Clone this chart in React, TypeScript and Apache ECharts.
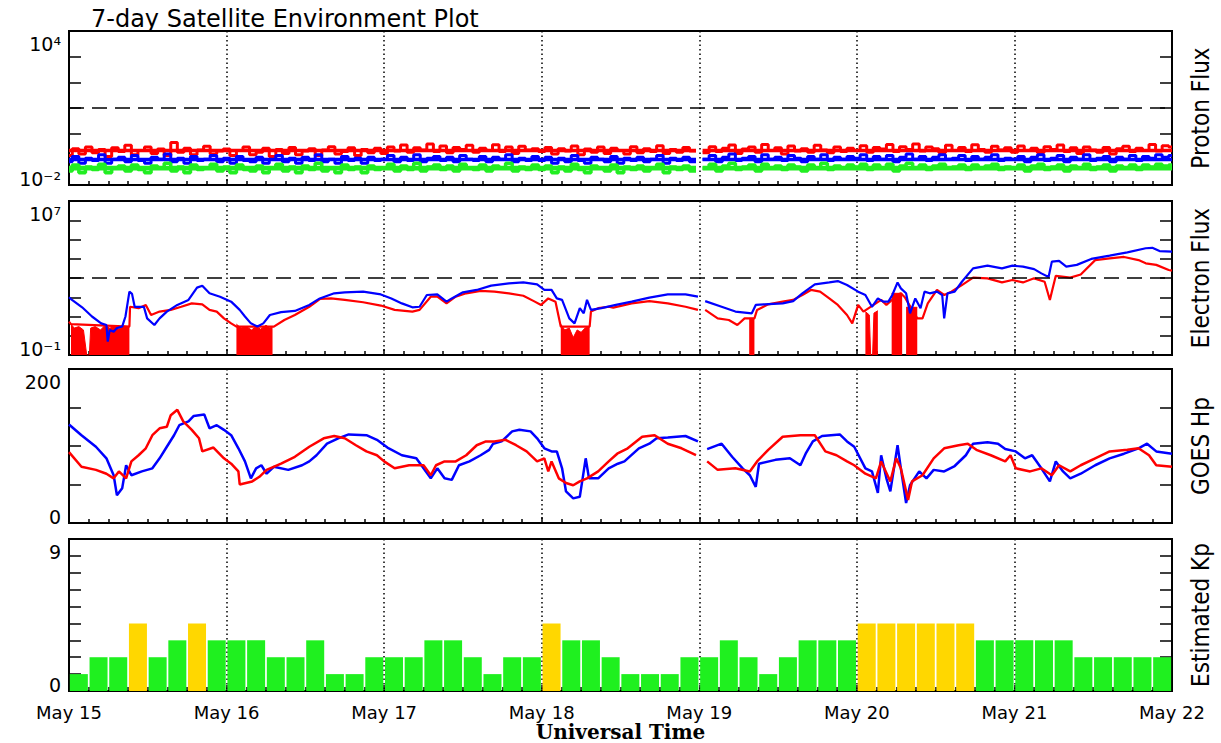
import React, { useEffect, useRef } from 'react';
import * as echarts from 'echarts';

// ---------- tick labels ----------
const dayLabels = ['May 15', 'May 16', 'May 17', 'May 18', 'May 19', 'May 20', 'May 21', 'May 22'];
const protonTickLabels = ['10⁻²', '10⁴'];
const electronTickLabels = ['10⁻¹', '10⁷'];
const hpTickLabels = ['0', '200'];
const kpTickLabels = ['0', '9'];

// ---------- Proton flux (hourly, hour 0..168 from May 15 00UT) ----------
const protonRed = [
  0.14, 0.26, 0.16, 0.3, 0.18, 0.24, 0.13, 0.28, 0.2, 0.35, 0.15, 0.22, 0.3, 0.17, 0.25, 0.14, 0.45, 0.19, 0.27, 0.15, 0.23, 0.32, 0.16, 0.21,
  0.25, 0.14, 0.22, 0.3, 0.15, 0.19, 0.27, 0.13, 0.24, 0.17, 0.29, 0.15, 0.21, 0.26, 0.14, 0.23, 0.31, 0.16, 0.2, 0.28, 0.14, 0.24, 0.18, 0.27,
  0.17, 0.3, 0.21, 0.36, 0.19, 0.28, 0.23, 0.4, 0.2, 0.33, 0.18, 0.29, 0.24, 0.35, 0.19, 0.27, 0.22, 0.37, 0.2, 0.3, 0.17, 0.32, 0.23, 0.26,
  0.2, 0.29, 0.16, 0.26, 0.21, 0.33, 0.15, 0.25, 0.19, 0.3, 0.17, 0.27, 0.22, 0.16, 0.31, 0.18, 0.26, 0.2, 0.34, 0.17, 0.24, 0.19, 0.29, 0.21,
  null,
  0.18, 0.31, 0.2, 0.27, 0.36, 0.17, 0.25, 0.3, 0.19, 0.38, 0.22, 0.28, 0.16, 0.33, 0.21, 0.26, 0.19, 0.35, 0.23, 0.18, 0.3, 0.2, 0.27,
  0.22, 0.34, 0.19, 0.29, 0.25, 0.38, 0.2, 0.31, 0.24, 0.4, 0.21, 0.3, 0.26, 0.18, 0.35, 0.22, 0.29, 0.2, 0.37, 0.24, 0.19, 0.32, 0.23, 0.28,
  0.19, 0.33, 0.22, 0.27, 0.18, 0.31, 0.24, 0.36, 0.2, 0.28, 0.17, 0.3, 0.23, 0.19, 0.29, 0.16, 0.26, 0.32, 0.2, 0.27, 0.22, 0.38, 0.21, 0.34, 0.3,
];
const protonBlue = [
  0.08, 0.13, 0.07, 0.11, 0.09, 0.15, 0.07, 0.1, 0.12, 0.08, 0.14, 0.09, 0.07, 0.12, 0.1, 0.16, 0.08, 0.11, 0.07, 0.13, 0.09, 0.1, 0.14, 0.08,
  0.11, 0.07, 0.13, 0.09, 0.08, 0.12, 0.07, 0.1, 0.14, 0.08, 0.11, 0.07, 0.12, 0.09, 0.15, 0.08, 0.1, 0.07, 0.13, 0.09, 0.11, 0.07, 0.12, 0.09,
  0.1, 0.14, 0.08, 0.12, 0.09, 0.15, 0.08, 0.11, 0.13, 0.09, 0.12, 0.08, 0.14, 0.1, 0.09, 0.13, 0.08, 0.12, 0.1, 0.15, 0.08, 0.11, 0.09, 0.13,
  0.09, 0.12, 0.07, 0.11, 0.08, 0.14, 0.09, 0.07, 0.12, 0.1, 0.08, 0.13, 0.07, 0.11, 0.09, 0.12, 0.08, 0.1, 0.14, 0.07, 0.11, 0.09, 0.12, 0.08,
  null,
  0.1, 0.14, 0.08, 0.12, 0.16, 0.09, 0.11, 0.13, 0.08, 0.15, 0.1, 0.12, 0.09, 0.14, 0.11, 0.08, 0.13, 0.1, 0.15, 0.09, 0.12, 0.1, 0.13,
  0.11, 0.15, 0.09, 0.13, 0.1, 0.14, 0.08, 0.12, 0.16, 0.1, 0.13, 0.09, 0.12, 0.15, 0.1, 0.11, 0.14, 0.09, 0.13, 0.1, 0.12, 0.15, 0.09, 0.11,
  0.1, 0.13, 0.08, 0.12, 0.15, 0.09, 0.11, 0.14, 0.08, 0.12, 0.1, 0.15, 0.09, 0.11, 0.13, 0.08, 0.12, 0.1, 0.14, 0.09, 0.13, 0.11, 0.15, 0.12, 0.14,
];
const protonGreen = [
  0.035, 0.06, 0.03, 0.05, 0.04, 0.065, 0.03, 0.045, 0.055, 0.035, 0.06, 0.04, 0.03, 0.055, 0.045, 0.07, 0.035, 0.05, 0.03, 0.06, 0.04, 0.045, 0.065, 0.035,
  0.05, 0.03, 0.06, 0.04, 0.035, 0.055, 0.03, 0.045, 0.065, 0.035, 0.05, 0.03, 0.055, 0.04, 0.07, 0.035, 0.045, 0.03, 0.06, 0.04, 0.05, 0.03, 0.055, 0.04,
  0.045, 0.065, 0.035, 0.055, 0.04, 0.07, 0.035, 0.05, 0.06, 0.04, 0.055, 0.035, 0.065, 0.045, 0.04, 0.06, 0.035, 0.055, 0.045, 0.07, 0.035, 0.05, 0.04, 0.06,
  0.04, 0.055, 0.03, 0.05, 0.035, 0.065, 0.04, 0.03, 0.055, 0.045, 0.035, 0.06, 0.03, 0.05, 0.04, 0.055, 0.035, 0.045, 0.065, 0.03, 0.05, 0.04, 0.055, 0.035,
  null,
  0.045, 0.065, 0.035, 0.055, 0.07, 0.04, 0.05, 0.06, 0.035, 0.065, 0.045, 0.055, 0.04, 0.06, 0.05, 0.035, 0.06, 0.045, 0.07, 0.04, 0.055, 0.045, 0.06,
  0.05, 0.065, 0.04, 0.06, 0.045, 0.065, 0.035, 0.055, 0.07, 0.045, 0.06, 0.04, 0.055, 0.065, 0.045, 0.05, 0.06, 0.04, 0.06, 0.045, 0.055, 0.065, 0.04, 0.05,
  0.045, 0.06, 0.035, 0.055, 0.065, 0.04, 0.05, 0.06, 0.035, 0.055, 0.045, 0.065, 0.04, 0.05, 0.06, 0.035, 0.055, 0.045, 0.06, 0.04, 0.06, 0.05, 0.065, 0.055, 0.06,
];
// dense core of each noisy proton channel (range that the 5-minute noise fills solidly)
const protonRedCore = [0.19, 0.26];
const protonBlueCore = [0.085, 0.115];
const protonGreenCore = [0.037, 0.056];
const protonDataGap = [95.5, 96.5];
const protonThreshold = 10;

// ---------- Electron flux [hour, value] ----------
const electronBlue = [
  [0, 100], [0.3, 81], [2, 30], [3.5, 10], [4.9, 4.4], [5.7, 3.6], [5.9, 0.5], [6.2, 2], [6.8, 1.6], [7.3, 2.5], [8.1, 3], [8.6, 10],
  [9.2, 195], [9.6, 150], [10, 32], [11.4, 32], [11.9, 8], [13, 3.6], [13.8, 8], [14.9, 18], [16.5, 40], [18.2, 73], [19.5, 316],
  [20.3, 400], [21.4, 160], [23, 107], [24.7, 59], [26, 22], [26.8, 10], [27.7, 4.4], [28.7, 3], [29.6, 4.4], [30.6, 12], [32.3, 17],
  [34.4, 19.5], [36.6, 40], [38.2, 87], [40.4, 160], [42, 180], [44.8, 195], [47.5, 140], [49.1, 87], [50.7, 48], [52.3, 30],
  [53.4, 32], [54.5, 131], [56.1, 140], [57.5, 59], [58.3, 87], [60, 180], [62.1, 240], [64.3, 400], [67, 525], [69.2, 590],
  [71.3, 470], [72.4, 240], [73.5, 240], [74.3, 87], [75.1, 73], [76.2, 8], [77, 4.4], [77.8, 27], [78.4, 14.6], [78.9, 73],
  [79.5, 22], [81.1, 27], [83.3, 40], [85.7, 59], [88.4, 95], [91.2, 140], [93.9, 140], [95.8, 107], [96.3, null], [96.9, 63],
  [99.4, 32], [101.5, 18], [104, 14.6], [104.6, 40], [105.9, 43], [108.7, 48], [110.3, 63], [111.7, 160], [113.6, 470], [115.8, 590],
  [117.1, 690], [118.5, 430], [120.2, 195], [121.3, 131], [122.3, 32], [123.2, 87], [124, 59], [124.8, 59], [125.4, 131], [126.2, 590],
  [126.7, 290], [127.5, 160], [128.1, 14.6], [128.9, 87], [129.7, 27], [130.3, 195], [131.1, 160], [132.2, 195], [133, 131], [133.3, 8],
  [133.8, 160], [134.9, 195], [136, 640], [137.7, 3160], [139.9, 4370], [142.1, 3160], [143.7, 4370], [145.3, 3900], [147, 2900],
  [148.1, 1740], [149.2, 1140], [149.7, 7080], [150.8, 7700], [151.9, 3900], [153.5, 4800], [155.7, 9800], [158.5, 14500],
  [161.2, 21500], [164, 35000], [165, 37000], [166.1, 25000], [168, 23700],
];
const electronRed = [
  [0, 5.4], [0.3, 4], [9.2, 3], [9.3, 32], [10.6, 27], [11.7, 40], [12.5, 12], [13.8, 18], [15.5, 22], [17.1, 32], [18.7, 48],
  [20.3, 43], [21.4, 22], [22.5, 18], [23.6, 8], [24.7, 4.4], [25.5, 3], [31.2, 3], [32.8, 6.6], [34.4, 12], [36.6, 32], [38.2, 81],
  [39.9, 87], [42, 73], [44.8, 55], [47.5, 37], [49.6, 22], [52.3, 18], [53.4, 22], [55.1, 107], [56.1, 107], [57.5, 48], [58.9, 107],
  [60.5, 160], [62.7, 215], [64.8, 195], [67, 160], [69.2, 120], [70.8, 63], [71.9, 40], [73, 87], [74.1, 59], [74.9, 3], [79.3, 3],
  [79.5, 18], [80.6, 27], [82.2, 32], [82.9, 29], [85.7, 48], [88.4, 63], [91.2, 48], [93.9, 32], [95.8, 22], [96.3, null],
  [96.9, 22], [98.8, 8], [100.5, 6.6], [101.8, 3.6], [102.9, 8], [103.6, 8], [104.4, 8], [104.8, 22], [106.5, 43], [108.7, 59],
  [110.3, 73], [111.7, 131], [113, 240], [114.4, 195], [115.8, 87], [117.1, 40], [118.5, 12], [119.3, 4.4], [120.2, 40], [121, 18],
  [123.7, 73], [124.5, 40], [126.2, 131], [126.7, 160], [127.3, 100], [129.2, 8], [130, 8], [130.8, 48], [132.2, 240], [133.3, 131],
  [134.4, 195], [136, 430], [137.7, 1050], [139.9, 960], [142.1, 590], [143.7, 790], [145.3, 590], [147, 960], [148.6, 640],
  [149.4, 72], [149.7, 195], [150.3, 1300], [152.5, 1050], [154.1, 1530], [156.3, 8500], [158.5, 10400], [160.7, 12400],
  [162.9, 8500], [164, 5800], [165.6, 4800], [167.5, 2600], [168, 2400],
];
// noisy intervals where the red channel flickers down to the floor of the axis
const electronRedNoise = [
  [0.3, 4], [0.8, 2.5], [1.5, 3], [2.2, 2], [2.7, 0.1], [3.1, 0.1], [3.3, 2.5], [4, 3], [4.8, 2], [5.5, 3.5], [6.2, 2.5], [7, 3],
  [7.6, 2.2], [8.3, 3.2], [9.2, 3], [9.25, null],
  [25.5, 4], [26.2, 2.5], [27, 3], [27.8, 2], [28.5, 3], [29.2, 2.2], [30, 3.5], [30.6, 2.5], [31, 3], [31.05, null],
  [74.9, 4], [75.5, 2], [76.2, 2.5], [76.8, 0.8], [77.4, 2], [78, 1.5], [78.6, 2.5], [79.3, 3], [79.35, null],
  [103.6, 8], [104.4, 8], [104.45, null],
  [121.3, 18], [121.9, 12], [122.1, 0.1], [122.4, 0.1], [122.6, 15], [123.2, 20], [123.25, null],
  [125.3, 160], [126.9, 160], [126.95, null],
  [127.5, 30], [129.2, 30],
];
const electronThreshold = 1000;

// ---------- GOES Hp (nT) [hour, value] ----------
const hpBlue = [
  [0, 128], [1.9, 114], [4.1, 99], [5.7, 84], [6.8, 62], [7.3, 36], [8.1, 45], [8.7, 75], [9.5, 62], [11.1, 67], [12.7, 71],
  [13.8, 84], [14.9, 99], [16, 114], [16.8, 127], [18.2, 132], [19, 139], [20.6, 141], [21.4, 123], [22.5, 127], [23.6, 121],
  [24.7, 114], [25.8, 97], [26.8, 80], [27.7, 58], [28.5, 71], [29.3, 75], [30.1, 64], [31.2, 73], [33.4, 69], [35.5, 75],
  [36.6, 80], [37.7, 88], [39.3, 103], [41, 110], [42.6, 115], [45.3, 114], [46.9, 108], [48.5, 98], [50.7, 88], [52.9, 84],
  [54, 71], [55.1, 58], [56.1, 71], [57.2, 58], [58.3, 56], [59.4, 75], [61, 80], [62.7, 88], [64, 95], [64.6, 103], [65.9, 106],
  [67.5, 119], [68.6, 121], [70.3, 119], [71.3, 110], [72.4, 97], [73.5, 93], [74.3, 93], [75.1, 71], [75.7, 41], [76.8, 32],
  [77.8, 34], [78.7, 84], [79.2, 58], [80.6, 58], [82.2, 71], [83.6, 77], [84.6, 80], [86.8, 97], [88.4, 103], [89.5, 110],
  [91.2, 111], [93.9, 113], [95.8, 106], [96.4, null], [97.2, 96], [99.4, 103], [101, 86], [102.6, 71], [103.7, 62], [104.6, 47],
  [105.1, 77], [107.6, 82], [109.8, 84], [111.4, 75], [112.2, 90], [113.3, 106], [114.7, 113], [117.4, 115], [118.5, 106],
  [119.6, 99], [121.3, 71], [122.3, 67], [123.2, 39], [123.7, 88], [124.5, 58], [125.1, 41], [126.2, 101], [126.7, 71],
  [127.5, 26], [128.1, 49], [129.5, 67], [130.6, 58], [131.7, 69], [133.3, 67], [134.9, 74], [136.6, 88], [137.7, 103],
  [139.9, 105], [141.5, 103], [142.6, 96], [144.2, 93], [145.6, 84], [146.7, 88], [148.1, 71], [149.4, 54], [150.3, 80],
  [151.4, 67], [152.5, 58], [154.1, 64], [156.3, 75], [158.5, 84], [160.7, 90], [162.9, 97], [164.2, 103], [165.6, 93], [168, 90],
];
const hpRed = [
  [0, 92], [1.9, 73], [4.1, 69], [5.7, 64], [6.8, 58], [7.6, 67], [8.7, 58], [9.5, 80], [10.6, 88], [11.7, 97], [12.7, 114],
  [13.8, 123], [14.9, 125], [15.5, 140], [16.5, 147], [17.4, 132], [18.7, 121], [19.8, 110], [20.3, 93], [22, 98], [23.6, 84],
  [24.7, 77], [25.8, 67], [26, 50], [27.9, 54], [29, 60], [30.1, 69], [32.3, 77], [34.4, 86], [36.6, 99], [38.8, 110], [40.4, 113],
  [42, 110], [43.7, 101], [45.3, 93], [46.9, 88], [48, 80], [49.6, 71], [51.8, 75], [54, 75], [55.1, 62], [55.9, 75], [57.2, 80],
  [58.9, 80], [60.5, 88], [62.1, 101], [63.5, 106], [64.8, 106], [66.5, 108], [68.1, 101], [69.7, 93], [71.3, 80], [72.4, 84],
  [73, 67], [73.5, 80], [74.6, 58], [75.7, 52], [76.8, 49], [77.8, 54], [78.9, 58], [80.6, 67], [82.2, 80], [83.5, 90], [85.1, 97],
  [87.3, 112], [89.2, 114], [91.2, 103], [93.3, 97], [95.5, 88], [96.4, null], [97.2, 80], [98.8, 69], [101.5, 71], [103.7, 67],
  [104.8, 80], [106.5, 95], [108.7, 112], [111.4, 114], [113.6, 114], [115.2, 93], [116.9, 88], [118.5, 80], [119.6, 75],
  [121.3, 64], [122.9, 58], [123.7, 80], [125.1, 54], [126, 84], [126.7, 71], [127.8, 30], [128.4, 54], [130, 62], [131.7, 84],
  [133.3, 97], [135.5, 101], [136.9, 103], [138.2, 95], [140.4, 88], [142.6, 80], [143.4, 88], [144.2, 71], [146.4, 67],
  [148.1, 71], [149.7, 62], [150.8, 75], [152.5, 67], [154.1, 75], [156.3, 84], [158.5, 93], [161.2, 95], [162.9, 97],
  [164.5, 88], [165.6, 75], [168, 73],
];

// ---------- Estimated Kp (3-hourly, 56 values) ----------
const kpValues = [
  1, 2, 2, 4, 2, 3, 4, 3,
  3, 3, 2, 2, 3, 1, 1, 2,
  2, 2, 3, 3, 2, 1, 2, 2,
  4, 3, 3, 2, 1, 1, 1, 2,
  2, 3, 2, 1, 2, 3, 3, 3,
  4, 4, 4, 4, 4, 4, 3, 3,
  3, 3, 3, 2, 2, 2, 2, 2,
];

const FONT = "'DejaVu Sans', 'Liberation Sans', sans-serif";
const NARROW = "'DejaVu Sans Condensed', 'Liberation Sans Narrow', 'DejaVu Sans', sans-serif";
const RED = '#ff0000';
const BLUE = '#0000ff';
const GREEN = '#22ee22';
const KP_GREEN = '#1ff01f';
const KP_YELLOW = '#ffd700';

const grids = [
  { left: 69, top: 31, width: 1106, height: 154 },
  { left: 69, top: 201, width: 1106, height: 154 },
  { left: 69, top: 369, width: 1106, height: 154 },
  { left: 69, top: 539, width: 1106, height: 153 },
];

function makeXAxis(gridIndex: number, last: boolean) {
  return {
    type: 'value',
    gridIndex,
    min: 0,
    max: 168,
    interval: 24,
    axisLine: { show: true, lineStyle: { color: '#000', width: 2 } },
    axisTick: { show: true, inside: true, length: 6, lineStyle: { color: '#000', width: 1.5 } },
    minorTick: { show: true, splitNumber: 8, length: 4, lineStyle: { color: '#000', width: 1.5 } },
    splitLine: { show: true, lineStyle: { color: '#000', width: 1.5, type: [1.5, 3] } },
    axisLabel: {
      show: last,
      margin: 12,
      fontSize: 18,
      fontFamily: FONT,
      color: '#000',
      formatter: (v: number) => dayLabels[Math.round(v / 24)] ?? '',
    },
    name: last ? 'Universal Time' : '',
    nameLocation: 'middle',
    nameGap: 31,
    nameTextStyle: { fontFamily: "'DejaVu Serif', 'Liberation Serif', serif", fontWeight: 'bold', fontSize: 20, color: '#000' },
  };
}

function edgeFormatter(labels: string[], isLog: boolean, min: number, max: number) {
  const near = (a: number, b: number) =>
    isLog ? Math.abs(Math.log10(a) - Math.log10(b)) < 1e-6 : Math.abs(a - b) < 1e-6;
  return (v: number) => {
    if (near(v, max)) return '{gt| }\n{v|' + labels[1] + '}';
    if (near(v, min)) return '{v|' + labels[0] + '}\n{gb| }';
    return '';
  };
}

function makeYAxes(gridIndex: number, type: string, min: number, max: number, step: number, labels: string[], name: string) {
  const isLog = type === 'log';
  const base: any = {
    type,
    gridIndex,
    min,
    max,
    splitLine: { show: false },
    axisLine: { show: true, lineStyle: { color: '#000', width: 2 } },
    axisTick: { show: true, inside: true, length: 12, lineStyle: { color: '#000', width: 1.5 } },
  };
  if (isLog) {
    base.logBase = 10;
    base.splitNumber = step;
  } else {
    base.interval = step;
  }
  const left = {
    ...base,
    position: 'left',
    axisLabel: {
      show: true,
      margin: 8,
      color: '#000',
      formatter: edgeFormatter(labels, isLog, min, max),
      rich: {
        v: { fontSize: 19, lineHeight: 20, fontFamily: FONT, color: '#000' },
        gt: { fontSize: 10, lineHeight: 26, height: 26 },
        gb: { fontSize: 10, lineHeight: 12, height: 12 },
      },
    },
  };
  const right = {
    ...base,
    position: 'right',
    axisLabel: { show: false },
    name,
    nameLocation: 'middle',
    nameGap: 17,
    nameRotate: 90,
    nameTextStyle: { fontSize: 24, fontFamily: NARROW, color: '#000' },
  };
  return [left, right];
}

function hourly(values: (number | null)[]) {
  return values.map((v, i) => [i, v]);
}

const dashed = (value: number) => ({
  silent: true,
  symbol: ['none', 'none'],
  label: { show: false },
  lineStyle: { color: '#000', width: 1.5, type: [15, 8] },
  data: [{ yAxis: value }],
});

function coreBand(name: string, range: number[], color: string) {
  return {
    name,
    type: 'line',
    xAxisIndex: 0,
    yAxisIndex: 0,
    z: 1,
    data: [],
    markArea: {
      silent: true,
      itemStyle: { color, opacity: 1 },
      label: { show: false },
      data: [
        [{ xAxis: 0, yAxis: range[0] }, { xAxis: protonDataGap[0], yAxis: range[1] }],
        [{ xAxis: protonDataGap[1], yAxis: range[0] }, { xAxis: 168, yAxis: range[1] }],
      ],
    },
  };
}

export default function App() {
  const ref = useRef<HTMLDivElement>(null);
  useEffect(() => {
    if (!ref.current) return;
    const chart = echarts.init(ref.current, null, { renderer: 'svg' });
    const option: any = {
      animation: false,
      backgroundColor: '#fff',
      title: {
        text: '7-day Satellite Environment Plot',
        left: 86,
        top: 2,
        textStyle: { fontSize: 24, fontWeight: 'normal', color: '#000', fontFamily: FONT },
      },
      grid: grids.map((g) => ({ ...g, show: true, borderColor: '#000', borderWidth: 2, backgroundColor: 'transparent' })),
      xAxis: [makeXAxis(0, false), makeXAxis(1, false), makeXAxis(2, false), makeXAxis(3, true)],
      yAxis: [
        ...makeYAxes(0, 'log', 0.01, 10000, 6, protonTickLabels, 'Proton Flux'),
        ...makeYAxes(1, 'log', 0.1, 1e7, 8, electronTickLabels, 'Electron Flux'),
        ...makeYAxes(2, 'value', 0, 200, 50, hpTickLabels, 'GOES Hp'),
        ...makeYAxes(3, 'value', 0, 9, 1, kpTickLabels, 'Estimated Kp'),
      ],
      series: [
        coreBand('Proton red core', protonRedCore, RED),
        coreBand('Proton blue core', protonBlueCore, BLUE),
        coreBand('Proton green core', protonGreenCore, GREEN),
        {
          name: 'Proton red', type: 'line', xAxisIndex: 0, yAxisIndex: 0, data: hourly(protonRed),
          step: 'middle', symbol: 'none', lineStyle: { color: RED, width: 3 }, markLine: dashed(protonThreshold),
        },
        {
          name: 'Proton blue', type: 'line', xAxisIndex: 0, yAxisIndex: 0, data: hourly(protonBlue),
          step: 'middle', symbol: 'none', lineStyle: { color: BLUE, width: 3 },
        },
        {
          name: 'Proton green', type: 'line', xAxisIndex: 0, yAxisIndex: 0, data: hourly(protonGreen),
          step: 'middle', symbol: 'none', lineStyle: { color: GREEN, width: 3.5 },
        },
        {
          name: 'Electron red noise', type: 'line', xAxisIndex: 1, yAxisIndex: 2, data: electronRedNoise,
          symbol: 'none', lineStyle: { color: RED, width: 1 }, areaStyle: { color: RED, opacity: 1, origin: 'start' },
        },
        {
          name: 'Electron red', type: 'line', xAxisIndex: 1, yAxisIndex: 2, data: electronRed,
          symbol: 'none', lineStyle: { color: RED, width: 2.2 }, markLine: dashed(electronThreshold),
        },
        {
          name: 'Electron blue', type: 'line', xAxisIndex: 1, yAxisIndex: 2, data: electronBlue,
          symbol: 'none', lineStyle: { color: BLUE, width: 2.2 },
        },
        {
          name: 'Hp blue', type: 'line', xAxisIndex: 2, yAxisIndex: 4, data: hpBlue,
          symbol: 'none', lineStyle: { color: BLUE, width: 2.5 },
        },
        {
          name: 'Hp red', type: 'line', xAxisIndex: 2, yAxisIndex: 4, data: hpRed,
          symbol: 'none', lineStyle: { color: RED, width: 2.5 },
        },
        {
          name: 'Kp', type: 'bar', xAxisIndex: 3, yAxisIndex: 6, barWidth: 18,
          data: kpValues.map((v, i) => ({
            value: [i * 3 + 1.5, v],
            itemStyle: { color: v >= 5 ? RED : v >= 4 ? KP_YELLOW : KP_GREEN },
          })),
        },
      ],
    };
    chart.setOption(option);
    return () => chart.dispose();
  }, []);
  return <div ref={ref} style={{ position: 'absolute', left: 0, top: 0, width: 1221, height: 743, background: '#fff' }} />;
}
